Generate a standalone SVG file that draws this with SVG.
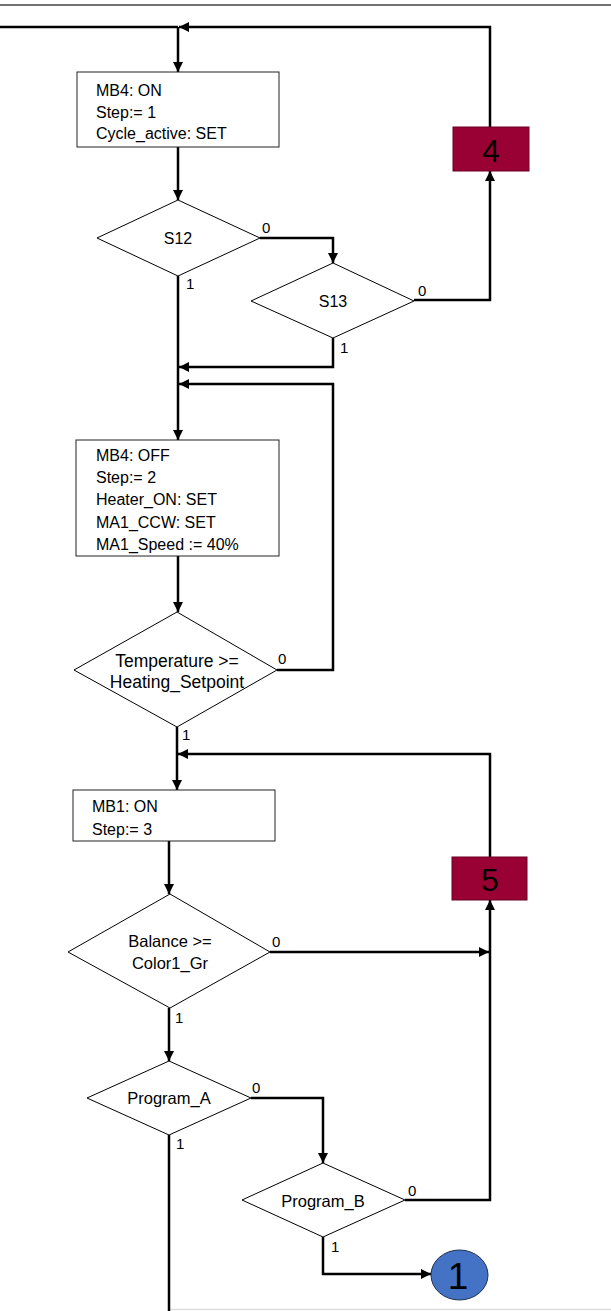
<svg xmlns="http://www.w3.org/2000/svg" width="611" height="1311" viewBox="0 0 611 1311">
<style>
.box{fill:#fff;stroke:#222;stroke-width:1}
.dia{fill:#fff;stroke:#000;stroke-width:1}
.t{font-family:"Liberation Sans",Arial,sans-serif;font-size:16px;fill:#000}
.tc{font-family:"Liberation Sans",Arial,sans-serif;font-size:16.5px;fill:#000;text-anchor:middle}
.lb{font-family:"Liberation Sans",Arial,sans-serif;font-size:15px;fill:#000}
.big{font-family:"Liberation Sans",Arial,sans-serif;font-size:32px;fill:#000;text-anchor:middle}
.con{fill:none;stroke:#000;stroke-width:2.5}
.conA{fill:none;stroke:#000;stroke-width:2.5;marker-end:url(#arr)}
.red{fill:#990033;stroke:#6a0022;stroke-width:1}
</style>
<defs>
<marker id="arr" markerUnits="userSpaceOnUse" markerWidth="11" markerHeight="10" refX="10" refY="5" orient="auto">
<path d="M0,0 L10,5 L0,10 z" fill="#000"/>
</marker>
</defs>
<rect width="611" height="1311" fill="#fff"/>
<line x1="0" y1="5" x2="611" y2="5" stroke="#444" stroke-width="1.5"/>
<line x1="170" y1="1309.5" x2="611" y2="1309.5" stroke="#ddd" stroke-width="1.5"/>

<g id="connectors">
<path class="con" d="M0,27 H178"/>
<path class="conA" d="M490,127 V27 H179"/>
<path class="conA" d="M178,27 V72"/>
<path class="conA" d="M178,147 V200"/>
<path class="conA" d="M260,238 H333 V263"/>
<path class="conA" d="M414,300 H490 V171"/>
<path class="conA" d="M178,276 V440"/>
<path class="conA" d="M333,338 V367 H179"/>
<path class="conA" d="M277,670 H333 V384 H179"/>
<path class="conA" d="M178,556 V612"/>
<path class="conA" d="M177,727 V790"/>
<path class="conA" d="M490,857 V754 H178"/>
<path class="conA" d="M169,841 V894"/>
<path class="conA" d="M270,952 H489"/>
<path class="conA" d="M169,1008 V1061"/>
<path class="conA" d="M251,1098 H323 V1163"/>
<path class="conA" d="M405,1200 H490 V900"/>
<path class="con" d="M169,1135 V1311"/>
<path class="conA" d="M323,1237 V1274 H431"/>
</g>

<g id="labels">
<text class="lb" x="262" y="233">0</text>
<text class="lb" x="186" y="289">1</text>
<text class="lb" x="418" y="296">0</text>
<text class="lb" x="340" y="353">1</text>
<text class="lb" x="278" y="664">0</text>
<text class="lb" x="182" y="740">1</text>
<text class="lb" x="272" y="947">0</text>
<text class="lb" x="175" y="1023">1</text>
<text class="lb" x="252" y="1093">0</text>
<text class="lb" x="176" y="1149">1</text>
<text class="lb" x="408" y="1196">0</text>
<text class="lb" x="331" y="1252">1</text>
</g>

<g id="box1">
<rect class="box" x="77" y="72" width="202" height="75"/>
<text class="t" x="96" y="96">MB4: ON</text>
<text class="t" x="96" y="118">Step:= 1</text>
<text class="t" x="96" y="139">Cycle_active: SET</text>
</g>

<g id="s12">
<polygon class="dia" points="97,238 178,200 260,238 178,276"/>
<text class="tc" x="178" y="244" style="font-size:16px">S12</text>
</g>

<g id="s13">
<polygon class="dia" points="251,301 333,263 414,301 333,338"/>
<text class="tc" x="333" y="307" style="font-size:16px">S13</text>
</g>

<g id="jump4">
<rect class="red" x="453" y="127" width="76" height="44"/>
<text class="big" x="491" y="162">4</text>
</g>

<g id="box2">
<rect class="box" x="76" y="440" width="203" height="116"/>
<text class="t" x="96" y="461">MB4: OFF</text>
<text class="t" x="96" y="483">Step:= 2</text>
<text class="t" x="96" y="505">Heater_ON: SET</text>
<text class="t" x="96" y="528">MA1_CCW: SET</text>
<text class="t" x="96" y="550">MA1_Speed := 40%</text>
</g>

<g id="temp">
<polygon class="dia" points="74,670 177,612 277,670 177,727"/>
<text class="tc" x="177" y="667" style="font-size:17.5px">Temperature &gt;=</text>
<text class="tc" x="177" y="688" style="font-size:17.5px">Heating_Setpoint</text>
</g>

<g id="box3">
<rect class="box" x="73" y="790" width="202" height="51"/>
<text class="t" x="92" y="812">MB1: ON</text>
<text class="t" x="92" y="835">Step:= 3</text>
</g>

<g id="jump5">
<rect class="red" x="452" y="857" width="75" height="43"/>
<text class="big" x="490" y="891">5</text>
</g>

<g id="balance">
<polygon class="dia" points="68,952 170,894 270,952 170,1008"/>
<text class="tc" x="170" y="947">Balance &gt;=</text>
<text class="tc" x="170" y="969">Color1_Gr</text>
</g>

<g id="progA">
<polygon class="dia" points="87,1098 169,1061 251,1098 169,1135"/>
<text class="tc" x="169" y="1104">Program_A</text>
</g>

<g id="progB">
<polygon class="dia" points="242,1200 323,1163 405,1200 323,1237"/>
<text class="tc" x="323" y="1207">Program_B</text>
</g>

<g id="conn1">
<ellipse cx="459.5" cy="1275" rx="28.5" ry="25" fill="#4472C4" stroke="#1f2f50" stroke-width="1"/>
<text class="big" x="458" y="1289" style="font-size:37px">1</text>
</g>
</svg>
